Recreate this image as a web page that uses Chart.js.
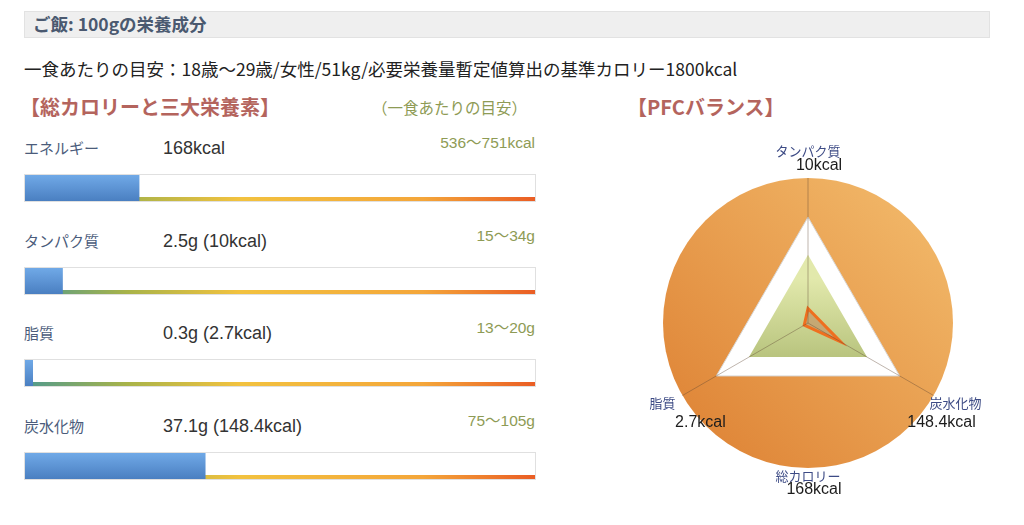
<!DOCTYPE html>
<html lang="ja">
<head>
<meta charset="utf-8">
<script src="https://cdn.jsdelivr.net/npm/chart.js@4"></script>
<style>
  body { margin: 0; width: 1024px; height: 525px; background: #fff; position: relative; overflow: hidden;
         font-family: "Noto Sans CJK JP", "Noto Sans", sans-serif; }
  .abs { position: absolute; white-space: nowrap; }
  #header { left: 24px; top: 11px; width: 966px; height: 27px; background: #efefef; border: 1px solid #e2e2e2; box-sizing: border-box; }
  #header span { position: absolute; left: 8px; top: 1px; font-size: 17.5px; font-weight: bold; color: #4a5970; line-height: 22px; }
  #note { left: 24px; top: 57px; font-size: 17.5px; color: #222; line-height: 24px; }
  .sec { font-size: 20px; font-weight: bold; color: #b4645d; line-height: 24px; }
  #guide { left: 372px; top: 96px; font-size: 15.5px; color: #8e9b55; line-height: 22px; }
  .lbl { font-size: 15px; color: #4b5c7b; line-height: 20px; }
  .val { font-family: "Liberation Sans", "Noto Sans CJK JP", sans-serif; font-size: 18px; color: #333; line-height: 20px; }
  .rng { font-family: "Liberation Sans", "Noto Sans CJK JP", sans-serif; font-size: 15.5px; color: #8e9b55; line-height: 18px; text-align: right; width: 200px; }
  .bar { position: absolute; left: 24px; width: 512px; height: 28px; }
</style>
</head>
<body>
<div id="header" class="abs"><span>ご飯: 100gの栄養成分</span></div>
<div id="note" class="abs">一食あたりの目安：18歳〜29歳/女性/51kg/必要栄養量暫定値算出の基準カロリー1800kcal</div>
<div class="abs sec" style="left:20px;top:95px;">【総カロリーと三大栄養素】</div>
<div id="guide" class="abs">（一食あたりの目安）</div>
<div class="abs sec" style="left:627px;top:95px;">【PFCバランス】</div>
<div id="rows"></div>
<canvas id="pfc" class="abs" style="left:608px;top:123px;width:400px;height:400px;" width="400" height="400"></canvas>

<script>
// 左: 総カロリーと三大栄養素
const nutrients = ['エネルギー', 'タンパク質', '脂質', '炭水化物'];
const amounts = [168, 2.5, 0.3, 37.1];
const amountLabels = ['168kcal', '2.5g (10kcal)', '0.3g (2.7kcal)', '37.1g (148.4kcal)'];
const targetMin = [536, 15, 13, 75];
const targetMax = [751, 34, 20, 105];
const targetLabels = ['536〜751kcal', '15〜34g', '13〜20g', '75〜105g'];

// 右: PFCバランス (レーダーの目盛り 0〜100)
const pfcAxes = ['タンパク質', '炭水化物', '脂質'];
const pfcKcalLabels = ['10kcal', '148.4kcal', '2.7kcal'];
const pfcScore = [10, 26, 3];
const pfcTargetLow = [47, 47, 47];
const pfcTargetHigh = [73, 73, 73];
const totalLabel = '総カロリー';
const totalKcalLabel = '168kcal';

const rowsEl = document.getElementById('rows');
const rowTop = [138, 231, 323, 416];

// track (white box + gradient line) under the blue bar
const trackPlugin = {
    id: 'track',
    beforeDatasetsDraw(chart) {
        const { ctx, chartArea: a } = chart;
        ctx.save();
        ctx.fillStyle = '#fff';
        ctx.fillRect(a.left, a.top, a.right - a.left, a.bottom - a.top);
        ctx.strokeStyle = '#e0e0e0';
        ctx.lineWidth = 1;
        ctx.strokeRect(a.left - 0.5, a.top - 0.5, a.right - a.left + 1, a.bottom - a.top + 1);
        const g = ctx.createLinearGradient(a.left, 0, a.right, 0);
        g.addColorStop(0, '#4f9a8e');
        g.addColorStop(0.2, '#a8b349');
        g.addColorStop(0.42, '#f2c23f');
        g.addColorStop(0.78, '#f4a63a');
        g.addColorStop(1, '#ea5d24');
        ctx.fillStyle = g;
        ctx.fillRect(a.left, a.bottom - 4, a.right - a.left, 4);
        ctx.restore();
    }
};

nutrients.forEach((name, i) => {
    const top = rowTop[i];
    rowsEl.insertAdjacentHTML('beforeend',
        `<div class="abs lbl" style="left:24px;top:${top}px;">${name}</div>` +
        `<div class="abs val" style="left:163px;top:${top}px;">${amountLabels[i]}</div>` +
        `<div class="abs rng" style="left:335px;top:${top - 4}px;">${targetLabels[i]}</div>` +
        `<canvas class="bar" id="bar${i}" style="top:${top + 36}px;" width="512" height="28"></canvas>`);

    new Chart(document.getElementById('bar' + i), {
        type: 'bar',
        data: {
            labels: [name],
            datasets: [{
                data: [amounts[i]],
                backgroundColor: (c) => {
                    const a = c.chart.chartArea;
                    if (!a) return '#5b92d6';
                    const g = c.chart.ctx.createLinearGradient(0, a.top, 0, a.bottom);
                    g.addColorStop(0, '#70a9e7');
                    g.addColorStop(1, '#4a7fc1');
                    return g;
                },
                borderWidth: 0,
                barPercentage: 1,
                categoryPercentage: 1
            }]
        },
        options: {
            indexAxis: 'y',
            responsive: false,
            animation: false,
            layout: { padding: 1 },
            plugins: { legend: { display: false }, tooltip: { enabled: false } },
            scales: {
                x: { display: false, min: 0, max: targetMax[i] },
                y: { display: false }
            }
        },
        plugins: [trackPlugin]
    });
});

// orange disc behind the radar + text around it
const pfcDecor = {
    id: 'pfcDecor',
    beforeDatasetsDraw(chart) {
        const s = chart.scales.r;
        const { ctx } = chart;
        const R = s.drawingArea;
        ctx.save();
        const g = ctx.createLinearGradient(s.xCenter + R * 0.7, s.yCenter - R * 0.7, s.xCenter - R * 0.7, s.yCenter + R * 0.7);
        g.addColorStop(0, '#f0b465');
        g.addColorStop(1, '#e0883a');
        ctx.fillStyle = g;
        ctx.beginPath();
        ctx.arc(s.xCenter, s.yCenter, R, 0, Math.PI * 2);
        ctx.fill();
        ctx.restore();
    },
    afterDraw(chart) {
        const s = chart.scales.r;
        const { ctx } = chart;
        const offs = [
            { l: [0, -27], v: [11, -12] },
            { l: [22, 8], v: [8, 27] },
            { l: [-20, 8], v: [18, 27] }
        ];
        const put = (txt, x, y, font, color) => {
            ctx.font = font;
            ctx.fillStyle = color;
            ctx.textAlign = 'center';
            ctx.textBaseline = 'middle';
            ctx.fillText(txt, x, y);
        };
        const lf = '13px "Noto Sans CJK JP"';
        const vf = '16px "Liberation Sans", sans-serif';
        ctx.save();
        pfcAxes.forEach((ax, i) => {
            const p = s.getPointPosition(i, s.drawingArea);
            put(ax, p.x + offs[i].l[0], p.y + offs[i].l[1], lf, '#3d4b85');
            put(pfcKcalLabels[i], p.x + offs[i].v[0], p.y + offs[i].v[1], vf, '#1c1c1c');
        });
        const by = s.yCenter + s.drawingArea;
        put(totalLabel, s.xCenter, by + 8, lf, '#3d4b85');
        put(totalKcalLabel, s.xCenter + 6, by + 22, vf, '#1c1c1c');
        ctx.restore();
    }
};

new Chart(document.getElementById('pfc'), {
    type: 'radar',
    data: {
        labels: pfcAxes,
        datasets: [
            {
                data: pfcScore,
                backgroundColor: 'rgba(196,160,110,0.85)',
                borderColor: '#ef6f1f',
                borderWidth: 3,
                pointRadius: 0,
                order: 1
            },
            {
                data: pfcTargetLow,
                backgroundColor: (c) => {
                    const a = c.chart.chartArea;
                    if (!a) return '#c9d38e';
                    const g = c.chart.ctx.createLinearGradient(0, a.top + 100, 0, a.bottom - 100);
                    g.addColorStop(0, '#e2e9ac');
                    g.addColorStop(1, '#b3bf78');
                    return g;
                },
                borderWidth: 0,
                pointRadius: 0,
                order: 2
            },
            {
                data: pfcTargetHigh,
                backgroundColor: '#ffffff',
                borderColor: '#d8d8d8',
                borderWidth: 1,
                pointRadius: 0,
                order: 3
            }
        ]
    },
    options: {
        responsive: false,
        animation: false,
        layout: { padding: 55 },
        plugins: { legend: { display: false }, tooltip: { enabled: false } },
        scales: {
            r: {
                min: 0,
                max: 100,
                ticks: { display: false },
                grid: { display: false, z: 1 },
                angleLines: { color: 'rgba(95,70,50,0.4)', lineWidth: 1 },
                pointLabels: { display: false }
            }
        }
    },
    plugins: [pfcDecor]
});
</script>
</body>
</html>
